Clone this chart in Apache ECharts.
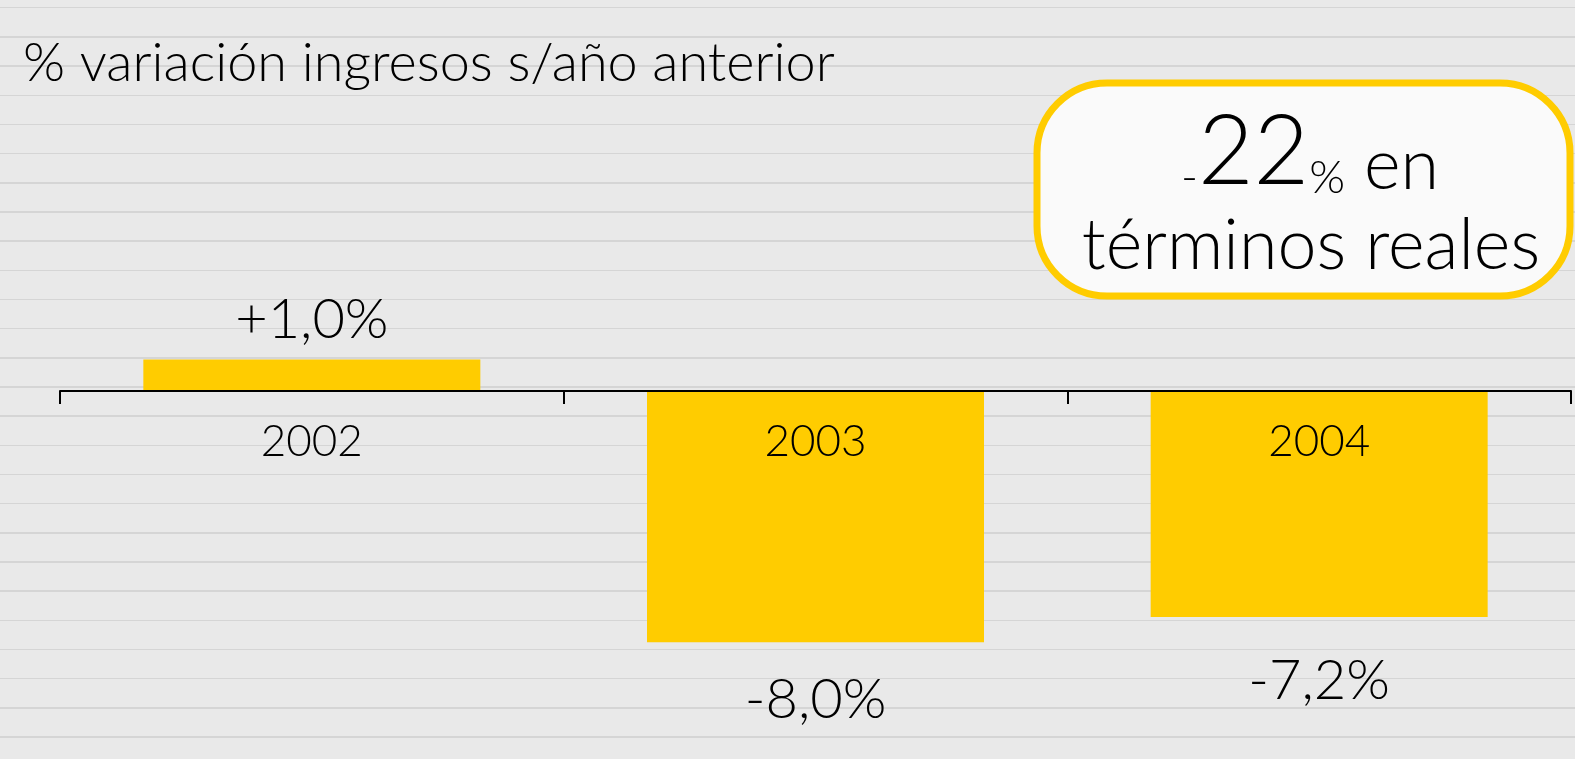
<!DOCTYPE html>
<html>
<head>
<meta charset="utf-8">
<script src="https://cdn.jsdelivr.net/npm/echarts@6/dist/echarts.min.js"></script>
<style>
    html, body { margin: 0; padding: 0; }
    #chart {
        width: 1575px;
        height: 759px;
        background-color: #e9e9e9;
        background-image: repeating-linear-gradient(to bottom,
            transparent 0px, transparent 7px, #d5d5d5 7px, #d5d5d5 8.5px, transparent 8.5px, transparent 29.17px);
    }
</style>
</head>
<body>
<div id="chart"></div>
<script>
// datos del gráfico
var years = ['2002', '2003', '2004'];
var variacion = [1.0, -8.0, -7.2];
var labelGap = [12, 30, 36];

var titulo = '% variación ingresos s/año anterior';
var cajaTotal = '22';
var cajaTexto = 'términos reales';

var fuente = 'Lato, "Open Sans", sans-serif';
var amarillo = '#ffcc00';

// eje y (oculto) y alto del grid
var yMin = -10, yMax = 10;
var gridTop = 77, gridHeight = 628;
// el eje x va en el cero: desplazamiento desde el borde inferior del grid
var ejeOffset = -gridHeight * (0 - yMin) / (yMax - yMin);

// formato español: coma decimal y signo
function formatoPct(v) {
    var s = Math.abs(v).toFixed(1).replace('.', ',');
    return (v > 0 ? '+' : '-') + s + '%';
}

var barData = [];
for (var i = 0; i < variacion.length; i++) {
    var v = variacion[i];
    barData.push({
        value: v,
        label: {
            position: v >= 0 ? 'top' : 'bottom',
            distance: labelGap[i]
        }
    });
}

var myChart = echarts.init(document.getElementById('chart'));
var option = {
    backgroundColor: 'transparent',
    animation: false,
    title: {
        text: titulo,
        left: 18,
        top: 32,
        textStyle: {
            fontFamily: fuente,
            fontSize: 54,
            fontWeight: 300,
            color: '#000'
        }
    },
    grid: {
        left: 60,
        right: 4,
        top: gridTop,
        height: gridHeight,
        outerBoundsMode: 'none',
        containLabel: false
    },
    xAxis: {
        type: 'category',
        data: years,
        position: 'bottom',
        offset: ejeOffset,
        z: 5,
        axisLine: { onZero: false, lineStyle: { color: '#000', width: 2 } },
        axisTick: { show: true, length: 13, lineStyle: { color: '#000', width: 2 } },
        axisLabel: {
            margin: 29,
            fontFamily: fuente,
            fontSize: 44,
            fontWeight: 300,
            color: '#000'
        }
    },
    yAxis: {
        type: 'value',
        min: yMin,
        max: yMax,
        show: false,
        splitLine: { show: false }
    },
    series: [{
        type: 'bar',
        data: barData,
        barWidth: 337,
        z: 2,
        itemStyle: { color: amarillo },
        label: {
            show: true,
            fontFamily: fuente,
            fontSize: 56,
            fontWeight: 300,
            color: '#000',
            formatter: function(p) { return formatoPct(p.value); }
        }
    }],
    graphic: [{
        type: 'rect',
        shape: { x: 1037, y: 83, width: 533, height: 213, r: 70 },
        style: { fill: '#fafafa', stroke: amarillo, lineWidth: 7 },
        z: 10
    }, {
        type: 'text',
        x: 1310,
        y: 201,
        style: {
            text: '{s|-}{big|' + cajaTotal + '}{s|%}{m| en}',
            align: 'center',
            verticalAlign: 'bottom',
            fontFamily: fuente,
            fontWeight: 300,
            fill: '#000',
            rich: {
                s: { fontFamily: fuente, fontWeight: 300, fontSize: 46, verticalAlign: 'bottom' },
                big: { fontFamily: fuente, fontWeight: 300, fontSize: 96, verticalAlign: 'bottom' },
                m: { fontFamily: fuente, fontWeight: 300, fontSize: 70, verticalAlign: 'bottom' }
            }
        },
        z: 11
    }, {
        type: 'text',
        x: 1311,
        y: 246,
        style: {
            text: cajaTexto,
            align: 'center',
            verticalAlign: 'middle',
            fontFamily: fuente,
            fontWeight: 300,
            fontSize: 70,
            fill: '#000'
        },
        z: 11
    }]
};
myChart.setOption(option);
</script>
</body>
</html>
